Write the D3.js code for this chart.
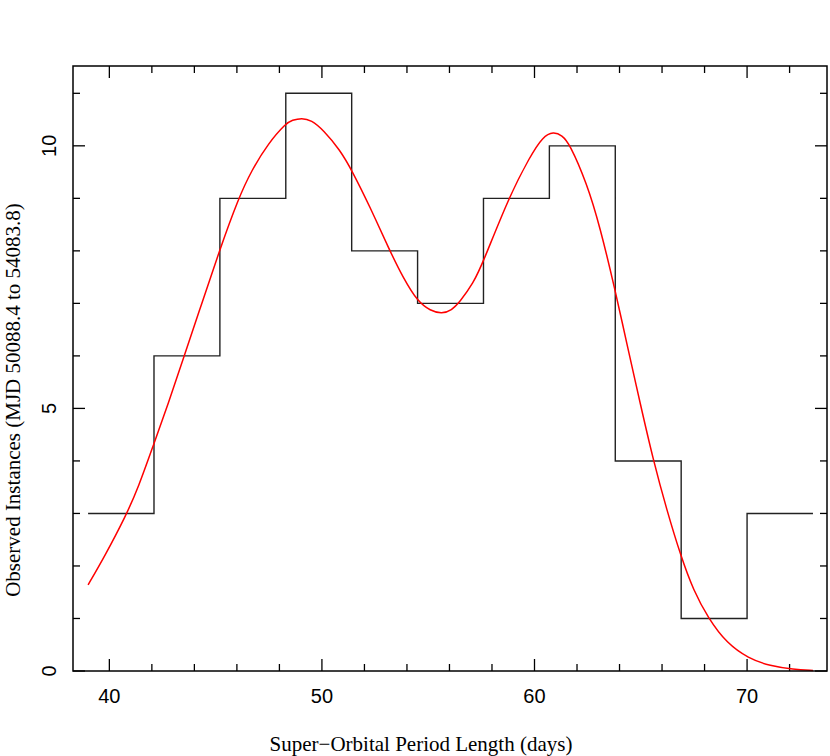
<!DOCTYPE html>
<html>
<head>
<meta charset="utf-8">
<script src="https://cdn.jsdelivr.net/npm/d3@7"></script>
<style>
  body { margin: 0; background: #fff; }
  svg { display: block; }
  .tick-label { font-family: "Liberation Sans", Arial, sans-serif; font-size: 20px; fill: #000; }
  .axis-title { font-family: "Liberation Serif", "Times New Roman", serif; font-size: 21px; fill: #000; }
</style>
</head>
<body>
<div id="chart"></div>
<script>
// histogram bins (days) and counts
var binStart = 39.0;
var binWidth = 3.1;
var counts = [3, 6, 9, 11, 8, 7, 9, 10, 4, 1, 3];

// fitted curve
var fitX = [39.0, 39.8, 40.77, 41.37, 42.07, 42.78, 43.48, 44.35, 45.19, 46.07, 46.7, 47.48,
            48.31, 48.6, 49.05, 49.5, 50.07, 50.85, 51.4, 52.26, 53.17, 53.83, 54.51, 55.1,
            55.64, 56.1, 56.47, 57.12, 57.59, 58.77, 59.79, 60.4, 60.89, 61.3, 61.64, 62.46,
            63.08, 63.79, 64.34, 64.97, 65.59, 66.22, 66.89, 67.47, 68.18, 69.04, 70.06,
            71.08, 72.18, 73.1];
var fitY = [1.64, 2.2, 2.95, 3.5, 4.3, 5.1, 5.95, 7.0, 8.02, 9.0, 9.54, 10.05,
            10.43, 10.49, 10.53, 10.49, 10.3, 9.92, 9.54, 8.84, 8.02, 7.48, 7.03, 6.86,
            6.8, 6.87, 7.02, 7.38, 7.79, 9.0, 9.8, 10.18, 10.27, 10.2, 10.05, 9.29,
            8.46, 7.26, 6.24, 5.1, 4.01, 3.07, 2.18, 1.54, 1.0, 0.53, 0.24,
            0.095, 0.03, 0.01];

var xTicks = [40, 50, 60, 70];
var yTicks = [0, 5, 10];

var xTitle = "Super\u2212Orbital Period Length (days)";
var yTitle = "Observed Instances (MJD 50088.4 to 54083.8)";

var width = 830, height = 756;
var margin = { top: 66, right: 3, bottom: 85, left: 73 };
var w = width - margin.left - margin.right;
var h = height - margin.top - margin.bottom;

var svg = d3.select("#chart").append("svg")
  .attr("width", width)
  .attr("height", height);

var g = svg.append("g")
  .attr("transform", "translate(" + margin.left + "," + margin.top + ")");

var x = d3.scaleLinear().domain([38.29, 73.76]).range([0, w]);
var y = d3.scaleLinear().domain([0, 11.52]).range([h, 0]);

// ticks, all pointing inwards like the original
var majorLen = 12, minorLen = 7;
var xMinor = d3.range(40, 74, 2);
var yMinor = d3.range(0, 12, 1);

var ticks = g.append("g").attr("stroke", "#000").attr("stroke-width", 1.3);
xMinor.forEach(function (v) {
  var len = v % 10 === 0 ? majorLen : minorLen;
  ticks.append("line").attr("x1", x(v)).attr("x2", x(v)).attr("y1", h).attr("y2", h - len);
  ticks.append("line").attr("x1", x(v)).attr("x2", x(v)).attr("y1", 0).attr("y2", len);
});
yMinor.forEach(function (v) {
  var len = v % 5 === 0 ? majorLen : minorLen;
  ticks.append("line").attr("x1", 0).attr("x2", len).attr("y1", y(v)).attr("y2", y(v));
  ticks.append("line").attr("x1", w).attr("x2", w - len).attr("y1", y(v)).attr("y2", y(v));
});

// histogram as a stepped line
var steps = counts.map(function (c, i) { return [binStart + i * binWidth, c]; });
steps.push([binStart + counts.length * binWidth, counts[counts.length - 1]]);

g.append("path")
  .datum(steps)
  .attr("fill", "none")
  .attr("stroke", "#222")
  .attr("stroke-width", 1.4)
  .attr("d", d3.line()
    .x(function (d) { return x(d[0]); })
    .y(function (d) { return y(d[1]); })
    .curve(d3.curveStepAfter));

// fitted curve (b-spline evens out the reading noise)
var fit = fitX.map(function (v, i) { return [v, fitY[i]]; });
g.append("path")
  .datum(fit)
  .attr("fill", "none")
  .attr("stroke", "#f00")
  .attr("stroke-width", 1.5)
  .attr("d", d3.line()
    .x(function (d) { return x(d[0]); })
    .y(function (d) { return y(d[1]); })
    .curve(d3.curveBasis));

// frame
g.append("rect")
  .attr("width", w).attr("height", h)
  .attr("fill", "none").attr("stroke", "#000").attr("stroke-width", 1.5);

// tick labels
g.selectAll(".xl").data(xTicks).enter().append("text")
  .attr("class", "tick-label")
  .attr("x", function (d) { return x(d); })
  .attr("y", h + 32)
  .attr("text-anchor", "middle")
  .text(function (d) { return d; });

g.selectAll(".yl").data(yTicks).enter().append("text")
  .attr("class", "tick-label")
  .attr("transform", function (d) { return "translate(-17," + y(d) + ") rotate(-90)"; })
  .attr("text-anchor", "middle")
  .text(function (d) { return d; });

// axis titles
svg.append("text")
  .attr("class", "axis-title")
  .attr("x", 421).attr("y", 751)
  .attr("text-anchor", "middle")
  .text(xTitle);

svg.append("text")
  .attr("class", "axis-title")
  .attr("transform", "translate(20,400) rotate(-90)")
  .attr("text-anchor", "middle")
  .text(yTitle);
</script>
</body>
</html>
